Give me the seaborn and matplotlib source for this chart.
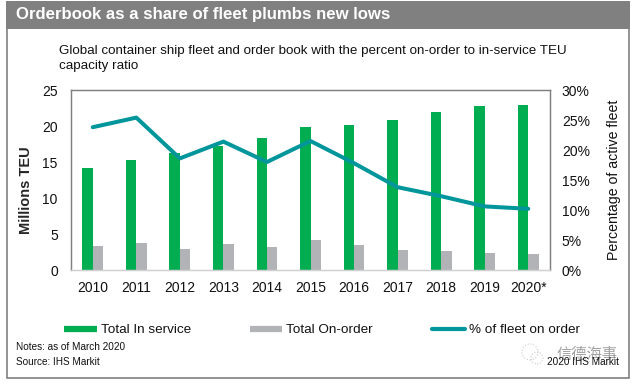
import pandas as pd
import seaborn as sns
import matplotlib.pyplot as plt
from matplotlib.lines import Line2D
from matplotlib.patches import Ellipse, Rectangle

years = ["2010", "2011", "2012", "2013", "2014", "2015", "2016", "2017", "2018", "2019", "2020*"]
in_service = [14.2, 15.3, 16.25, 17.2, 18.4, 19.8, 20.1, 20.9, 21.9, 22.8, 22.9]
on_order = [3.3, 3.75, 2.9, 3.6, 3.2, 4.2, 3.5, 2.8, 2.6, 2.35, 2.2]
pct_on_order = [23.8, 25.4, 18.6, 21.4, 18.0, 21.5, 17.8, 13.8, 12.3, 10.6, 10.2]

GREEN = "#00ad50"
GRAY = "#b1b3b6"
TEAL = "#00969b"
W, H = 636, 384

sns.set_theme(style="white")
plt.rcParams["font.family"] = ["Liberation Sans", "Noto Sans CJK SC", "DejaVu Sans"]

df = pd.DataFrame({
    "year": years * 2,
    "teu": in_service + on_order,
    "series": ["Total In service"] * len(years) + ["Total On-order"] * len(years),
})

fig = plt.figure(figsize=(W / 100, H / 100), dpi=100)
ax = fig.add_axes([71 / W, 1 - 270 / H, 479 / W, 180 / H])

sns.barplot(data=df, x="year", y="teu", hue="series", order=years, palette=[GREEN, GRAY],
            width=0.48, gap=0, saturation=1, linewidth=0, legend=False, ax=ax)
ax.set_ylim(0, 25)
ax.set_xlim(-0.5, 10.5)
ax.set_yticks(range(0, 30, 5))
ax.set_xlabel("")
ax.set_ylabel("Millions TEU", fontsize=10.5, fontweight="bold", va="center")
ax.yaxis.set_label_coords((26 - 71) / 479, (270 - 190.5) / 180)
ax.tick_params(axis="both", length=0, labelsize=10, colors="#111111")
ax.tick_params(axis="x", pad=8)
ax.tick_params(axis="y", pad=9.5)

ax2 = ax.twinx()
sns.lineplot(x=years, y=pct_on_order, color=TEAL, linewidth=2.9, sort=False, legend=False, ax=ax2)
ax2.set_ylim(0, 30)
ax2.set_yticks(range(0, 35, 5))
ax2.set_yticklabels([f"{v}%" for v in range(0, 35, 5)])
ax2.set_ylabel("Percentage of active fleet", fontsize=10.2, va="center", color="#111111")
ax2.yaxis.set_label_coords((614 - 71) / 479, 0.5)
ax2.tick_params(axis="y", length=0, labelsize=10, pad=8.5, colors="#111111")

for a in (ax, ax2):
    for name in ("left", "top", "right"):
        a.spines[name].set_color("#808080")
        a.spines[name].set_linewidth(0.9)
    a.spines["bottom"].set_color("#d0d0d0")
    a.spines["bottom"].set_linewidth(0.9)

# header band and outer frame
fig.add_artist(Rectangle((6.5 / W, 1 - 378 / H), 622.5 / W, 350 / H, transform=fig.transFigure,
                         fill=False, edgecolor="#808080", linewidth=1.2))
fig.add_artist(Rectangle((6 / W, 1 - 29 / H), 623.5 / W, 28 / H, transform=fig.transFigure,
                         facecolor="#808080", edgecolor="none"))
fig.text(16 / W, 1 - 15 / H, "Orderbook as a share of fleet plumbs new lows", color="white",
         fontsize=12.1, fontweight="bold", va="center")
fig.text(59 / W, 1 - 51 / H, "Global container ship fleet and order book with the percent on-order to in-service TEU",
         fontsize=9.62, color="#111111", va="center")
fig.text(59 / W, 1 - 66 / H, "capacity ratio", fontsize=9.62, color="#111111", va="center")

fig.legend(handles=[Line2D([], [], color=GREEN, lw=4.5, solid_capstyle="butt", label="Total In service"),
                    Line2D([], [], color=GRAY, lw=4.5, solid_capstyle="butt", label="Total On-order"),
                    Line2D([], [], color=TEAL, lw=3, label="% of fleet on order")],
           loc="center", bbox_to_anchor=(322 / W, 1 - 330 / H), ncol=3, frameon=False, fontsize=9.7,
           handlelength=2.4, handletextpad=0.3, columnspacing=4.4, labelcolor="#111111")

fig.text(16 / W, 1 - 347 / H, "Notes: as of March 2020", fontsize=7.2, color="#111111", va="center")
fig.text(16 / W, 1 - 362 / H, "Source: IHS Markit", fontsize=7.2, color="#111111", va="center")

# watermark sits underneath the copyright line, as in the source image
for cx, cy, r in [(530, 352, 8), (537, 358, 6)]:
    fig.add_artist(Ellipse((cx / W, 1 - cy / H), 2 * r / W, 2 * r / H, transform=fig.transFigure,
                           fill=False, edgecolor="#c8c8c8", linewidth=0.8, linestyle=":"))
fig.text(557 / W, 1 - 355 / H, "信德海事", fontsize=11, color="#a0a0a0", va="center")
fig.text(619 / W, 1 - 362 / H, "2020 IHS Markit", fontsize=7.2, color="#111111", va="center", ha="right")

fig.savefig("out.png", dpi=100)
